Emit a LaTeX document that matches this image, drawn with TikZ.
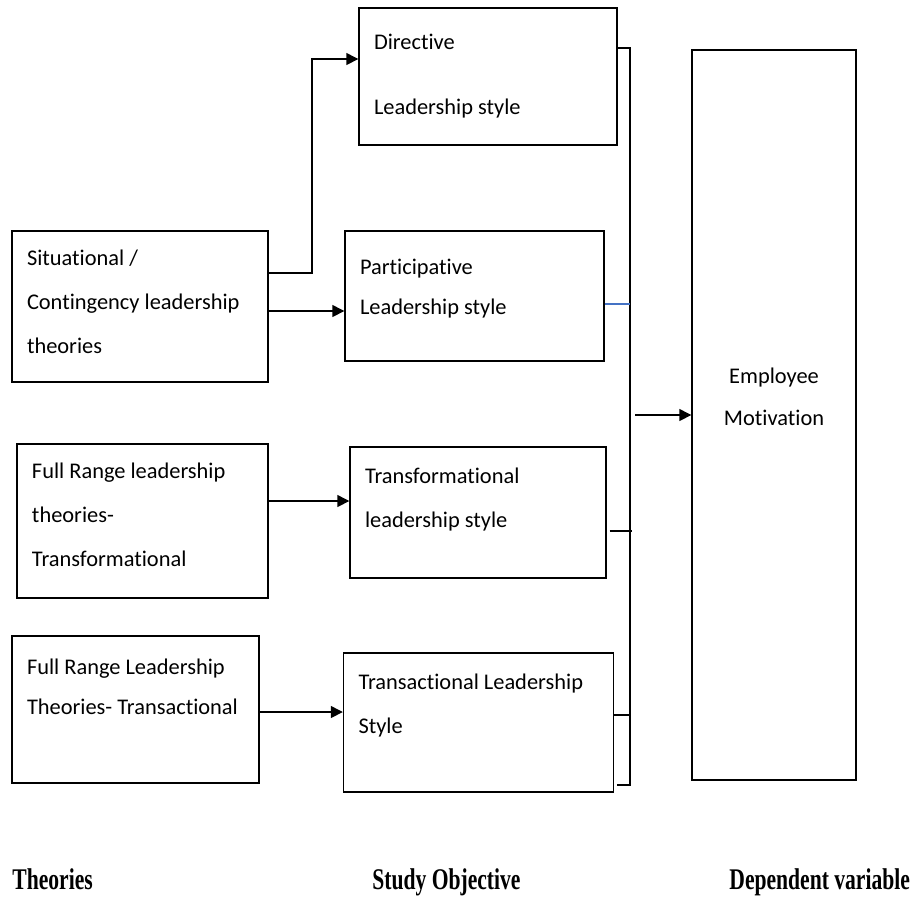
\documentclass[tikz,border=0pt]{standalone}
\usepackage{fontspec}
\setmainfont{Carlito}[Ligatures=NoCommon]
\newfontfamily\labfont[FakeStretch=0.72]{Liberation Serif}
\usetikzlibrary{arrows.meta}
\definecolor{wordblue}{RGB}{68,114,196}
\tikzset{
  bx/.style={draw, line width=0.7pt, rectangle, align=flush left, inner xsep=7.5pt,
             font=\fontsize{11.2}{22}\selectfont},
  tag/.style={anchor=base west, inner sep=0pt, font=\labfont\bfseries\fontsize{15}{18}\selectfont},
  lnk/.style={line width=0.7pt},
  arr/.style={line width=0.7pt, -{Triangle[length=6pt,width=6pt]}},
}
\begin{document}
\begin{tikzpicture}[x=0.5pt,y=-0.5pt]
  \useasboundingbox (0,0) rectangle (913,896);
  % theories
  \node[bx, minimum width=128pt, minimum height=75.5pt, text width=113pt,
        text depth=49pt] (sit) at (140,306.5)
    {Situational /\\Contingency leadership\\theories};
  \node[bx, minimum width=125.5pt, minimum height=77pt, text width=110.5pt,
        text depth=50pt] (frt) at (142.5,521)
    {Full Range leadership\\theories-\\Transformational};
  \node[bx, minimum width=123.5pt, minimum height=73.5pt, text width=108.5pt,
        font=\fontsize{11.2}{20}\selectfont, text depth=43pt] (frx) at (135.5,709.5)
    {Full Range Leadership\\Theories- Transactional};
  % study objectives
  \node[bx, minimum width=129pt, minimum height=68.5pt, text width=114pt,
        font=\fontsize{11.2}{32.5}\selectfont] (dir) at (488,76.5)
    {Directive\\Leadership style};
  \node[bx, minimum width=129.5pt, minimum height=65pt, text width=114.5pt,
        font=\fontsize{11.2}{20}\selectfont, text depth=29pt] (par) at (474.5,296)
    {Participative\\Leadership style};
  \node[bx, minimum width=128pt, minimum height=65.5pt, text width=113pt,
        text depth=36.5pt] (tfm) at (478,512.5)
    {Transformational\\leadership style};
  \node[bx, minimum width=133.5pt, minimum height=69.5pt, text width=120pt,
        text depth=40.5pt] (tsc) at (478.5,722.5)
    {Transactional Leadership\\Style};
  % dependent variable
  \node[bx, minimum width=82pt, minimum height=365pt, align=center,
        font=\fontsize{11.2}{21}\selectfont, text depth=18pt] (emp) at (774,415)
    {Employee\\Motivation};

  \draw[arr] (sit.east |- 0,273) -- (312,273) |- (dir.west |- 0,59);
  \draw[arr] (sit.east |- 0,311) -- (par.west |- 0,311);
  \draw[arr] (frt.east |- 0,501) -- (tfm.west |- 0,501);
  \draw[arr] (frx.east |- 0,712) -- (tsc.west |- 0,712);

  % bracket
  \coordinate (brt) at (630,48);
  \coordinate (brb) at (630,785);
  \draw[lnk] (dir.east |- brt) -- (brt) -- (brb) -- (617,785);
  \draw[lnk, wordblue] (par.east |- 0,304) -- (brt |- 0,304);
  \draw[lnk] ([xshift=1.5pt]tfm.east |- 0,531) -- (632,531);
  \draw[lnk] (tsc.east |- 0,715) -- (brt |- 0,715);
  \coordinate (brk) at (635,415);
  \draw[arr] (brk) -- (emp.west |- brk);

  \node[tag] (lt) at (12,889) {Theories};
  \node[tag] (ls) at (372,889) {Study Objective};
  \node[tag] (ld) at (729,889) {Dependent variable};
\end{tikzpicture}
\end{document}
